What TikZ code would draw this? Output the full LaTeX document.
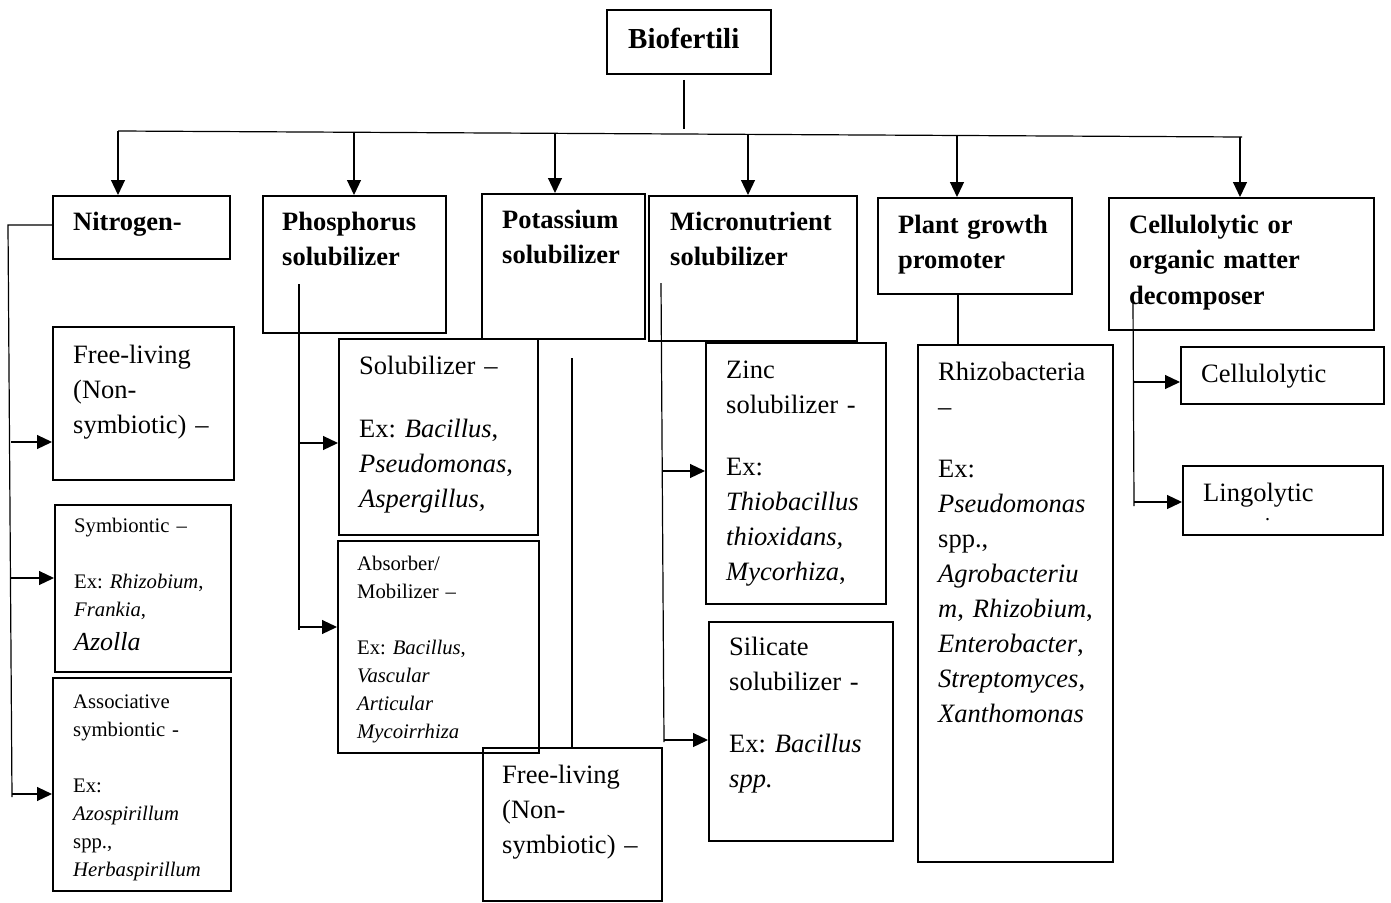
\documentclass[tikz,border=0pt]{standalone}
\usepackage{fontspec}
\setmainfont{Liberation Serif}
\usetikzlibrary{arrows.meta}
\frenchspacing

\begin{document}
\begin{tikzpicture}[x=1pt, y=-1pt]

      \tikzset{box/.style = {draw, line width=1.8pt, anchor=north west, inner sep=0pt}}
      \tikzset{txt/.style = {anchor=base west, inner sep=0pt, align=left, text width=240pt,
               font=\fontsize{26.5}{35}\selectfont}}
      \tikzset{head/.style = {txt, font=\fontsize{26.5}{35.5}\selectfont\bfseries}}
      \tikzset{small/.style = {txt, font=\fontsize{20.7}{28}\selectfont}}
      \tikzset{line/.style = {line width=1.2pt}}
      \tikzset{edge/.style = {line, -{Triangle[length=15pt,width=14pt]}}}
      \useasboundingbox (0,0) rectangle (1391,902);

      % boxes
      \node[box, minimum width=164pt, minimum height=64pt] (bio) at (606,9) {};
      \node[box, minimum width=177pt, minimum height=63pt] (nitro) at (52,195) {};
      \node[box, minimum width=183pt, minimum height=137pt] (phos) at (262,195) {};
      \node[box, minimum width=163pt, minimum height=145pt] (pota) at (481,193) {};
      \node[box, minimum width=208pt, minimum height=145pt] (micro) at (648,195) {};
      \node[box, minimum width=194pt, minimum height=96pt] (plant) at (877,197) {};
      \node[box, minimum width=265pt, minimum height=132pt] (cell) at (1108,197) {};
      \node[box, minimum width=181pt, minimum height=153pt] (nfree) at (52,326) {};
      \node[box, minimum width=176pt, minimum height=167pt] (nsym) at (54,504) {};
      \node[box, minimum width=178pt, minimum height=213pt] (nasso) at (52,677) {};
      \node[box, minimum width=199pt, minimum height=196pt] (psol) at (338,338) {};
      \node[box, minimum width=201pt, minimum height=212pt] (pabs) at (337,540) {};
      \node[box, minimum width=179pt, minimum height=153pt] (kfree) at (482,747) {};
      \node[box, minimum width=180pt, minimum height=261pt] (zinc) at (705,342) {};
      \node[box, minimum width=184pt, minimum height=219pt] (sili) at (708,621) {};
      \node[box, minimum width=195pt, minimum height=517pt] (rhizo) at (917,344) {};
      \node[box, minimum width=203pt, minimum height=57pt] (cellu) at (1180,346) {};
      \node[box, minimum width=200pt, minimum height=69pt] (lingo) at (1182,465) {};

      % texts
      \node[head, font=\fontsize{29}{35}\selectfont\bfseries] (bioT) at (628,48) {Biofertili};
      \node[head] (nitroT) at (73,230) {Nitrogen-};
      \node[head] (phosT) at (282,230) {Phosphorus\\solubilizer};
      \node[head] (potaT) at (502,228) {Potassium\\solubilizer};
      \node[head] (microT) at (670,230) {Micronutrient\\solubilizer};
      \node[head] (plantT) at (898,233) {Plant growth\\promoter};
      \node[head] (cellT) at (1129,233) {Cellulolytic or\\organic matter\\decomposer};
      \node[txt] (nfreeT) at (73,363) {Free-living\\(Non-\\symbiotic) –};
      \node[small] (nsymT) at (74,532) {Symbiontic –\\[28pt]Ex: \textit{Rhizobium},\\\textit{Frankia},\\[6pt]{\fontsize{26}{28}\selectfont\textit{Azolla}}};
      \node[small] (nassoT) at (73,708) {Associative\\symbiontic -\\[28pt]Ex:\\\textit{Azospirillum}\\spp.,\\\textit{Herbaspirillum}};
      \node[txt] (psolT) at (359,374) {Solubilizer –\\[28pt]Ex: \textit{Bacillus},\\\textit{Pseudomonas},\\\textit{Aspergillus,}};
      \node[small] (pabsT) at (357,570) {Absorber/\\Mobilizer –\\[28pt]Ex: \textit{Bacillus},\\\textit{Vascular}\\\textit{Articular}\\\textit{Mycoirrhiza}};
      \node[txt] (kfreeT) at (502,783) {Free-living\\(Non-\\symbiotic) –};
      \node[txt] (zincT) at (726,378) {Zinc\\solubilizer -\\[27pt]Ex:\\\textit{Thiobacillus}\\\textit{thioxidans,}\\\textit{Mycorhiza},};
      \node[txt] (siliT) at (729,655) {Silicate\\solubilizer -\\[27pt]Ex: \textit{Bacillus}\\\textit{spp.}};
      \node[txt] (rhizoT) at (938,380) {Rhizobacteria\\–\\[27pt]Ex:\\\textit{Pseudomonas}\\spp.,\\\textit{Agrobacteriu}\\\textit{m}, \textit{Rhizobium},\\\textit{Enterobacter},\\\textit{Streptomyces},\\\textit{Xanthomonas}};
      \node[txt] (celluT) at (1201,382) {Cellulolytic};
      \node[txt] (lingoT) at (1203,501) {Lingolytic};
      \node[txt, font=\fontsize{20}{20}\selectfont] (lingoD) at (1265,520) {.};

      % edges
      \coordinate (stem) at (684,129);
      \draw[line] (stem |- bio.south) ++(0,5) -- (stem);
      \coordinate (barL) at (118,131);
      \coordinate (barR) at (1242,137);
      \draw[line] (barL) -- (barR);
      \coordinate (tN) at (118,131);
      \coordinate (tP) at (354,132);
      \coordinate (tK) at (555,133);
      \coordinate (tM) at (748,134);
      \coordinate (tG) at (957,135);
      \coordinate (tC) at (1240,137);
      \draw[edge] (tN) -- (tN |- nitro.north);
      \draw[edge] (tP) -- (tP |- phos.north);
      \draw[edge] (tK) -- (tK |- pota.north);
      \draw[edge] (tM) -- (tM |- micro.north);
      \draw[edge] (tG) -- (tG |- plant.north);
      \draw[edge] (tC) -- (tC |- cell.north);

      % nitrogen
      \coordinate (nTop) at (8,225);
      \coordinate (nBot) at (12,797);
      \draw[line] (nTop -| nitro.west) -- (nTop) -- (nBot);
      \coordinate (nA1) at (11,442);
      \coordinate (nA2) at (11,578);
      \coordinate (nA3) at (12,794);
      \draw[edge] (nA1) -- (nA1 -| nfree.west);
      \draw[edge] (nA2) -- (nA2 -| nsym.west);
      \draw[edge] (nA3) -- (nA3 -| nasso.west);

      % phosphorus
      \coordinate (pTop) at (299,284);
      \coordinate (pBot) at (299,630);
      \draw[line] (pTop) -- (pBot);
      \coordinate (pA1) at (299,443);
      \coordinate (pA2) at (299,627);
      \draw[edge] (pA1) -- (pA1 -| psol.west);
      \draw[edge] (pA2) -- (pA2 -| pabs.west);

      % potassium
      \coordinate (kTop) at (572,358);
      \draw[line] (kTop) -- (kTop |- kfree.north);

      % micronutrient
      \coordinate (mTop) at (661,283);
      \coordinate (mBot) at (664,742);
      \draw[line] (mTop) -- (mBot);
      \coordinate (mA1) at (663,471);
      \coordinate (mA2) at (664,740);
      \draw[edge] (mA1) -- (mA1 -| zinc.west);
      \draw[edge] (mA2) -- (mA2 -| sili.west);

      % plant growth
      \coordinate (gStem) at (958,300);
      \draw[line] (gStem |- plant.south) -- (gStem |- rhizo.north);

      % cellulolytic
      \coordinate (cTop) at (1133,302);
      \coordinate (cBot) at (1134,506);
      \draw[line] (cTop) -- (cBot);
      \coordinate (cA1) at (1133,382);
      \coordinate (cA2) at (1134,502);
      \draw[edge] (cA1) -- (cA1 -| cellu.west);
      \draw[edge] (cA2) -- (cA2 -| lingo.west);

\end{tikzpicture}
\end{document}
